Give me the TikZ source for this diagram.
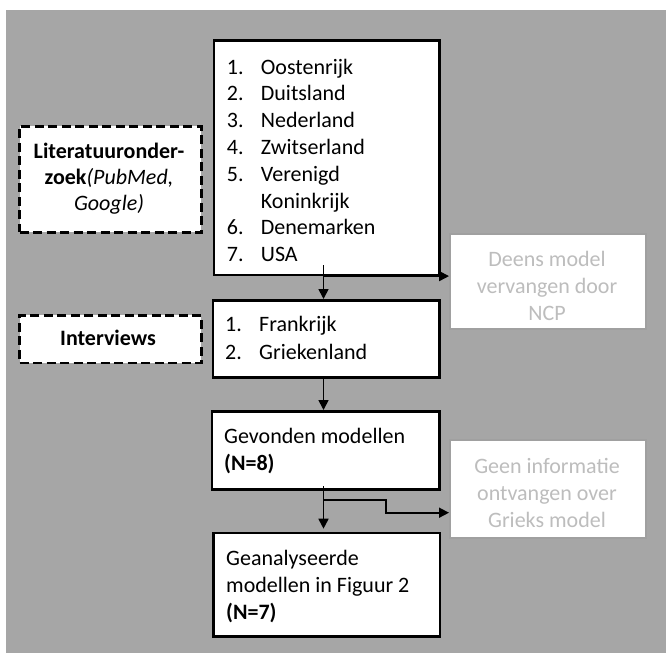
\documentclass[tikz,border=0pt]{standalone}
\usepackage{fontspec}
\setmainfont{Carlito}
\usetikzlibrary{arrows.meta}

\definecolor{bggray}{HTML}{A6A6A6}
\definecolor{softline}{HTML}{A0A0A0}
\definecolor{softtext}{HTML}{BDBDBD}

\begin{document}
\begin{tikzpicture}[x=1pt,y=-1pt,
  font=\fontsize{22}{26.7}\selectfont,
  box/.style={draw=black, line width=2.6pt, fill=white, inner sep=0pt, anchor=north west},
  dbox/.style={draw=black, line width=2.7pt, dash pattern=on 9pt off 4.5pt, fill=white, inner sep=0pt, anchor=north west},
  sbox/.style={draw=softline, line width=1.5pt, fill=white, inner sep=0pt, anchor=north west},
  txt/.style={anchor=base west, inner sep=0pt},
  ctxt/.style={anchor=base, inner sep=0pt},
  stxt/.style={anchor=base, inner sep=0pt, text=softtext},
  link/.style={line width=1.7pt, -{Triangle[length=10pt,width=10pt]}}
]
% canvas
\useasboundingbox (0,0) rectangle (666,653);
\fill[white] (0,0) rectangle (666,653);
\fill[bggray] (6,10) rectangle (666,653);

% boxes
\node[box,  minimum width=225.5pt, minimum height=234.5pt] (b1) at (212.5,39) {};
\node[box,  minimum width=226.5pt, minimum height=77pt]    (b2) at (211.5,299) {};
\node[box,  minimum width=227.3pt, minimum height=78pt]    (b3) at (210.7,410) {};
\node[box,  minimum width=226.4pt, minimum height=103.3pt] (b4) at (212.3,531.7) {};
\node[dbox, minimum width=181.7pt, minimum height=106pt]   (lit) at (18.3,125) {};
\node[dbox, minimum width=181.7pt, minimum height=47.7pt]  (int) at (18.3,314) {};
\node[sbox, minimum width=196pt,   minimum height=95pt]    (d1) at (449,233) {};
\node[sbox, minimum width=196pt,   minimum height=98pt]    (g1) at (449,439) {};

% list of countries
\foreach \n/\w/\y [count=\k] in {1./Oostenrijk/74, 2./Duitsland/100.8, 3./Nederland/127.6,
    4./Zwitserland/154.4, 5./Verenigd/181.2, /Koninkrijk/208, 6./Denemarken/234.8, 7./USA/261.6}{
  \node[txt] (n\k) at (226.7,\y) {\n};
  \node[txt] (w\k) at (260.7,\y) {\w};
}
\node[txt] (f1n) at (225,331.7) {1.};
\node[txt] (f1w) at (259,331.7) {Frankrijk};
\node[txt] (f2n) at (225,359.3) {2.};
\node[txt] (f2w) at (259,359.3) {Griekenland};

\node[txt] (m1) at (224,443) {Gevonden modellen};
\node[txt] (m2) at (224,470) {\bfseries (N=8)};

\node[txt] (a1) at (226,565) {Geanalyseerde};
\node[txt] (a2) at (226,592.7) {modellen in Figuur 2};
\node[txt] (a3) at (226,619) {\bfseries (N=7)};

\node[ctxt] (l1) at (109,158.3) {\bfseries Literatuuronder-};
\node[ctxt] (l2) at (109,184) {\textbf{zoek}\textit{(PubMed,}};
\node[ctxt] (l3) at (109,210.7) {\itshape Google)};
\node[ctxt] (i1) at (108,345) {\bfseries Interviews};

\node[stxt] (d1a) at (547,266.7) {Deens model};
\node[stxt] (d1b) at (547,293.3) {vervangen door};
\node[stxt] (d1c) at (547,320) {NCP};
\node[stxt] (g1a) at (547,473) {Geen informatie};
\node[stxt] (g1b) at (547,500) {ontvangen over};
\node[stxt] (g1c) at (547,527) {Grieks model};

% connectors
\coordinate (s1) at (323.5,265);
\coordinate (s3) at (323.5,486);
\coordinate (k1) at (323.5,500);
\coordinate (k2) at (385.7,512.7);
\draw[link] (s1) -- (s1 |- b2.north);
\draw[link] (s1 |- b1.south) -- (b1.south -| d1.west);
\draw[link] (s1 |- b2.south) -- (s1 |- b3.north);
\draw[link, shorten >=3pt] (s3) -- (s3 |- b4.north);
\draw[link] (k1) -- (k1 -| k2) -- (k2) -- (k2 -| g1.west);
\end{tikzpicture}
\end{document}
